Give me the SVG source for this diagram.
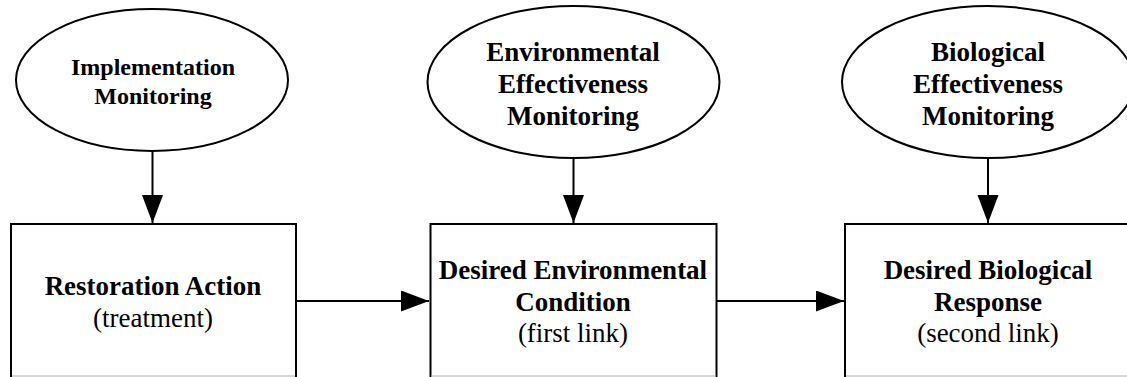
<svg xmlns="http://www.w3.org/2000/svg" width="1127" height="377" viewBox="0 0 1127 377">
  <style>
    .shape { fill: #ffffff; stroke: #000000; stroke-width: 2; }
    .edge { fill: none; stroke: #000000; stroke-width: 2; }
    .base { fill: none; stroke: #c8c8c8; stroke-width: 1.5; }
    text { font-family: "Liberation Serif", "Times New Roman", serif; text-anchor: middle; fill: #000000; }
    .b { font-weight: bold; }
    .s24 { font-size: 24px; }
    .s27 { font-size: 27px; }
  </style>
  <defs>
    <marker id="arrow" markerUnits="userSpaceOnUse" markerWidth="30" markerHeight="22" refX="28" refY="10.5" orient="auto">
      <path d="M0,0 L28,10.5 L0,21 Z" fill="#000000"/>
    </marker>
  </defs>
  <rect width="1127" height="377" fill="#ffffff"/>

  <g id="connectors">
    <line class="edge" x1="152.5" y1="151" x2="152.5" y2="223" marker-end="url(#arrow)"/>
    <line class="edge" x1="573.5" y1="158" x2="573.5" y2="223" marker-end="url(#arrow)"/>
    <line class="edge" x1="988" y1="158" x2="988" y2="223" marker-end="url(#arrow)"/>
    <line class="edge" x1="296" y1="301" x2="429" y2="301" marker-end="url(#arrow)"/>
    <line class="edge" x1="717" y1="301" x2="844" y2="301" marker-end="url(#arrow)"/>
  </g>

  <g id="implementation-monitoring">
    <ellipse class="shape" cx="152" cy="80" rx="136" ry="71"/>
    <text class="b s24" x="153" y="75">Implementation</text>
    <text class="b s24" x="153" y="104">Monitoring</text>
  </g>

  <g id="environmental-monitoring">
    <ellipse class="shape" cx="573.5" cy="82" rx="146" ry="76"/>
    <text class="b s27" x="573" y="61">Environmental</text>
    <text class="b s27" x="573" y="93">Effectiveness</text>
    <text class="b s27" x="573" y="125">Monitoring</text>
  </g>

  <g id="biological-monitoring">
    <ellipse class="shape" cx="988" cy="82" rx="146" ry="76"/>
    <text class="b s27" x="988" y="61">Biological</text>
    <text class="b s27" x="988" y="93">Effectiveness</text>
    <text class="b s27" x="988" y="125">Monitoring</text>
  </g>

  <g id="restoration-action">
    <rect class="shape" x="11" y="224" width="285" height="170"/>
    <line class="base" x1="12" y1="376" x2="295" y2="376"/>
    <text class="b s27" x="153" y="295">Restoration Action</text>
    <text class="s27" x="153" y="327">(treatment)</text>
  </g>

  <g id="environmental-condition">
    <rect class="shape" x="430.5" y="224" width="286" height="170"/>
    <line class="base" x1="431.5" y1="376" x2="715.5" y2="376"/>
    <text class="b s27" x="573" y="279">Desired Environmental</text>
    <text class="b s27" x="573" y="311">Condition</text>
    <text class="s27" x="573" y="342">(first link)</text>
  </g>

  <g id="biological-response">
    <rect class="shape" x="845" y="224" width="286" height="170"/>
    <line class="base" x1="846" y1="376" x2="1127" y2="376"/>
    <text class="b s27" x="988" y="279">Desired Biological</text>
    <text class="b s27" x="988" y="311">Response</text>
    <text class="s27" x="988" y="342">(second link)</text>
  </g>
</svg>
